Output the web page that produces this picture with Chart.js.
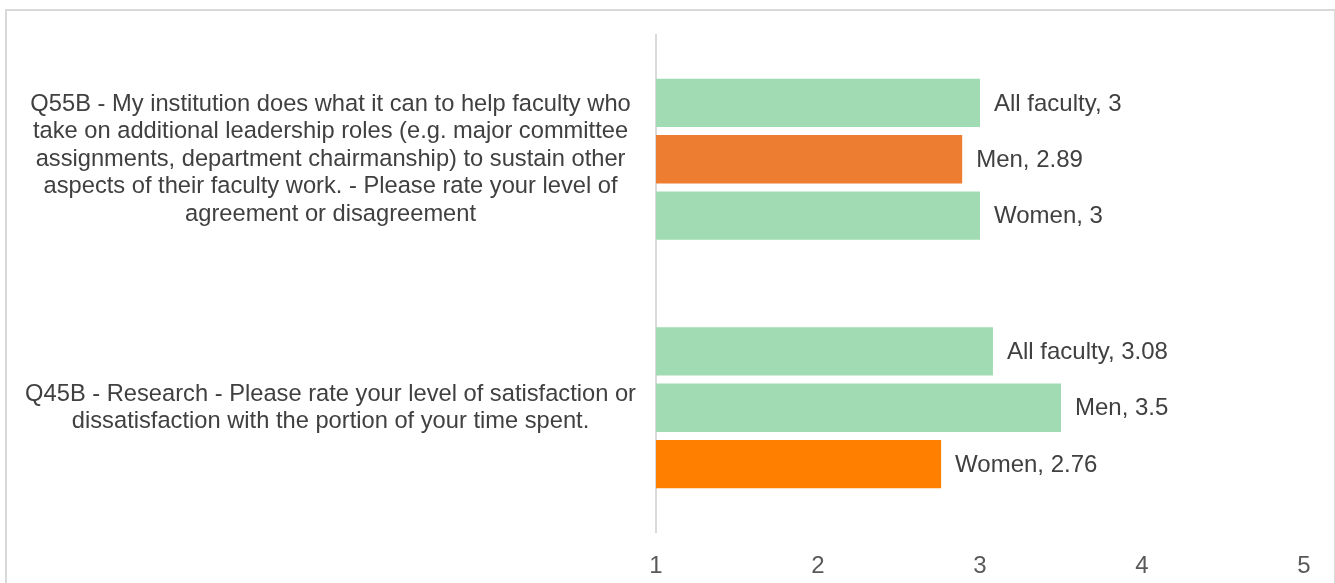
<!DOCTYPE html>
<html lang="en">
<head>
    <meta charset="UTF-8">
    <title>Faculty ratings</title>
    <script src="https://cdn.jsdelivr.net/npm/chart.js@4.4.1/dist/chart.umd.min.js"></script>
    <style>
        html, body {
            margin: 0;
            padding: 0;
            background: #fff;
        }
        .chart-wrap {
            position: relative;
            width: 1335px;
            height: 583px;
            overflow: hidden;
        }
        .frame {
            position: absolute;
            left: 5px;
            top: 9px;
            width: 1327px;
            height: 600px;
            border: 2px solid #d9d9d9;
            border-bottom: none;
            pointer-events: none;
        }
    </style>
</head>
<body>
    <div class="chart-wrap">
        <div class="frame"></div>
        <canvas id="ratingChart"></canvas>
    </div>

    <script>
        // Question labels (wrapped like the original)
        const questions = [
            ['Q55B - My institution does what it can to help faculty who',
             'take on additional leadership roles (e.g. major committee',
             'assignments, department chairmanship) to sustain other',
             'aspects of their faculty work. - Please rate your level of',
             'agreement or disagreement'],
            ['Q45B - Research - Please rate your level of satisfaction or',
             'dissatisfaction with the portion of your time spent.']
        ];
        const groups = ['All faculty', 'Men', 'Women'];
        const allFaculty = [3, 3.08];
        const men = [2.89, 3.5];
        const women = [3, 2.76];
        const xTicks = [1, 2, 3, 4, 5];

        const green = '#a0dbb3';
        const orange = '#ed7d31';
        const brightOrange = '#ff8000';
        const fontFamily = '"Liberation Sans", Arial, sans-serif';

        // draws "Series, value" to the right of each bar
        const barLabels = {
            id: 'barLabels',
            afterDatasetsDraw(chart) {
                const ctx = chart.ctx;
                ctx.save();
                ctx.font = '24px ' + fontFamily;
                ctx.fillStyle = '#404040';
                ctx.textAlign = 'left';
                ctx.textBaseline = 'middle';
                chart.data.datasets.forEach((ds, i) => {
                    chart.getDatasetMeta(i).data.forEach((bar, j) => {
                        ctx.fillText(ds.label + ', ' + ds.data[j], bar.x + 14, bar.y + 1);
                    });
                });
                ctx.restore();
            }
        };

        const ctx = document.getElementById('ratingChart').getContext('2d');
        new Chart(ctx, {
            type: 'bar',
            data: {
                labels: questions,
                datasets: [
                    { label: groups[0], data: allFaculty, backgroundColor: [green, green] },
                    { label: groups[1], data: men, backgroundColor: [orange, green] },
                    { label: groups[2], data: women, backgroundColor: [green, brightOrange] }
                ]
            },
            options: {
                indexAxis: 'y',
                responsive: true,
                maintainAspectRatio: false,
                animation: false,
                layout: {
                    padding: { top: 35, right: 31, bottom: 4, left: 0 }
                },
                categoryPercentage: 0.68,
                barPercentage: 0.857,
                plugins: {
                    legend: { display: false },
                    tooltip: { enabled: false }
                },
                scales: {
                    x: {
                        min: 1,
                        max: 5,
                        afterBuildTicks(scale) {
                            scale.ticks = xTicks.map(v => ({ value: v }));
                        },
                        afterFit(scale) {
                            scale.height = 47;
                        },
                        grid: { display: false, drawTicks: false },
                        border: { display: false },
                        ticks: {
                            padding: 20,
                            color: '#595959',
                            font: { family: fontFamily, size: 24 }
                        }
                    },
                    y: {
                        afterFit(scale) {
                            scale.width = 656;
                            // tall wrapped labels should not shrink the plot area
                            scale.paddingTop = 0;
                            scale.paddingBottom = 0;
                        },
                        grid: { display: false, drawTicks: false },
                        border: { display: true, color: '#d9d9d9', width: 2 },
                        ticks: {
                            crossAlign: 'center',
                            padding: 20,
                            color: '#404040',
                            font: { family: fontFamily, size: 23.7, lineHeight: 1.16 }
                        }
                    }
                }
            },
            plugins: [barLabels]
        });
    </script>
</body>
</html>
